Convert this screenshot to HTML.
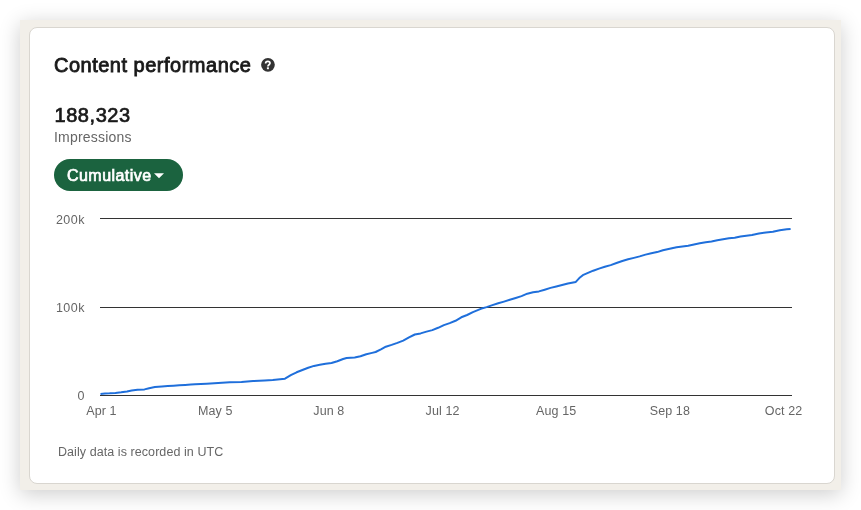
<!DOCTYPE html>
<html><head><meta charset="utf-8">
<style>
html,body{margin:0;padding:0;background:#fff;width:861px;height:510px;overflow:hidden;font-family:"Liberation Sans",sans-serif;}
.panel{position:absolute;left:20px;top:20px;width:821px;height:470px;background:#f2efe9;box-shadow:0 4px 20px rgba(0,0,0,0.2);}
.card{position:absolute;left:29px;top:27px;width:804px;height:455px;background:#fff;border:1px solid #d9d6d0;border-radius:8px;}
.abs{position:absolute;white-space:nowrap;line-height:1;}
.title{left:54px;top:55px;font-size:20px;-webkit-text-stroke:0.85px #191919;color:#191919;letter-spacing:0.5px;}
.num{left:54.5px;top:105px;font-size:20px;-webkit-text-stroke:0.7px #191919;color:#191919;letter-spacing:0.55px;}
.imp{left:54px;top:130px;font-size:14px;color:#666;letter-spacing:0.2px;}
.btn{position:absolute;left:54px;top:159px;width:129px;height:32px;border-radius:16px;background:#1b633f;}
.btxt{left:67px;top:167.5px;font-size:16px;-webkit-text-stroke:0.7px #fff;color:#fff;letter-spacing:0.45px;}
.yl{font-size:12.5px;color:#666;text-align:right;width:40px;letter-spacing:0.5px;}
.xl{font-size:12.5px;color:#666;text-align:center;width:80px;letter-spacing:0.1px;}
.foot{left:58px;top:446px;font-size:12.5px;color:#666;letter-spacing:0.07px;}
</style></head><body>
<div class="panel"></div>
<div class="card"></div>
<div style="position:absolute;left:0;top:0;width:861px;height:510px;will-change:transform">
<div class="abs title">Content performance</div>
<svg class="abs" style="left:0;top:0" width="861" height="510">
<circle cx="267.95" cy="64.8" r="6.85" fill="#333"/>
<path d="M265.6,63.4 C265.6,62.1 266.5,61.3 267.8,61.3 C269,61.3 270,62.1 270,63.2 C270,64.6 267.9,64.9 267.9,66.4" fill="none" stroke="#fff" stroke-width="1.7"/>
<rect x="266.9" y="67.3" width="2" height="1.9" fill="#fff"/>
</svg>
<div class="abs num">188,323</div>
<div class="abs imp">Impressions</div>
<div class="btn"></div>
<div class="abs btxt">Cumulative</div>
<svg class="abs" style="left:0;top:0" width="861" height="510">
<path d="M154,173.2 L164,173.2 L159,178.3 Z" fill="#fff"/>
<rect x="100" y="218" width="692" height="1" fill="#333"/>
<rect x="100" y="307" width="692" height="1" fill="#333"/>
<rect x="100" y="395" width="692" height="1" fill="#333"/>
<path d="M100.5,394.0 L105.0,393.5 L109.6,393.3 L115.4,392.9 L121.2,392.3 L127.0,391.5 L131.7,390.5 L137.5,389.8 L144.5,389.4 L149.1,388.2 L154.9,387.1 L161.9,386.5 L167.7,386.1 L173.5,385.7 L179.3,385.3 L185.1,384.9 L190.9,384.6 L195.0,384.3 L206.6,383.7 L218.2,382.9 L229.8,382.3 L241.5,382.0 L253.1,381.1 L264.7,380.5 L272.8,380.0 L285.0,378.7 L290.8,375.2 L296.6,372.3 L302.4,370.0 L308.2,367.7 L314.0,365.9 L319.8,364.8 L325.6,363.8 L331.5,363.0 L337.3,361.3 L343.1,359.0 L346.6,358.0 L354.7,357.4 L360.5,356.3 L366.3,354.3 L372.1,352.9 L375.6,352.0 L381.4,349.1 L385.8,346.7 L391.6,344.9 L397.4,342.9 L403.2,340.6 L409.0,337.4 L414.8,334.5 L420.6,333.4 L426.5,331.6 L432.3,330.1 L438.1,327.8 L443.9,325.1 L449.7,323.1 L455.5,320.8 L461.3,317.3 L467.1,315.0 L472.9,312.1 L480.8,308.8 L486.6,307.1 L492.4,305.1 L498.2,303.3 L504.0,301.6 L509.8,299.8 L515.7,298.0 L521.5,296.1 L527.3,293.7 L533.1,292.3 L538.9,291.4 L544.7,289.7 L550.5,287.9 L556.3,286.5 L562.1,285.0 L567.9,283.5 L575.8,281.9 L579.3,278.1 L582.8,275.2 L587.4,273.2 L593.2,270.7 L599.0,268.6 L604.8,266.8 L610.7,265.1 L616.5,263.0 L622.3,261.0 L628.1,259.3 L633.9,257.9 L639.7,256.4 L645.5,254.6 L651.3,253.2 L657.1,252.1 L662.9,250.3 L670.8,248.5 L676.6,247.3 L682.4,246.5 L688.2,245.7 L694.0,244.5 L699.8,243.3 L705.7,242.2 L711.5,241.5 L717.3,240.3 L723.1,239.3 L728.9,238.3 L734.7,237.8 L740.5,236.6 L746.3,235.7 L752.0,235.1 L758.9,233.6 L765.9,232.4 L772.9,231.7 L779.8,230.2 L786.8,229.3 L790.6,229.0" fill="none" stroke="#1f6fdb" stroke-width="2" stroke-linejoin="round" stroke-linecap="butt"/>
</svg>
<div class="abs yl" style="left:45px;top:214px">200k</div>
<div class="abs yl" style="left:45px;top:302px">100k</div>
<div class="abs yl" style="left:45px;top:390px">0</div>
<div class="abs xl" style="left:61.45px;top:405px">Apr 1</div>
<div class="abs xl" style="left:175.25px;top:405px">May 5</div>
<div class="abs xl" style="left:288.85px;top:405px">Jun 8</div>
<div class="abs xl" style="left:402.6px;top:405px">Jul 12</div>
<div class="abs xl" style="left:516.15px;top:405px">Aug 15</div>
<div class="abs xl" style="left:629.85px;top:405px">Sep 18</div>
<div class="abs xl" style="left:743.55px;top:405px">Oct 22</div>
<div class="abs foot">Daily data is recorded in UTC</div>
</div>
</body></html>
